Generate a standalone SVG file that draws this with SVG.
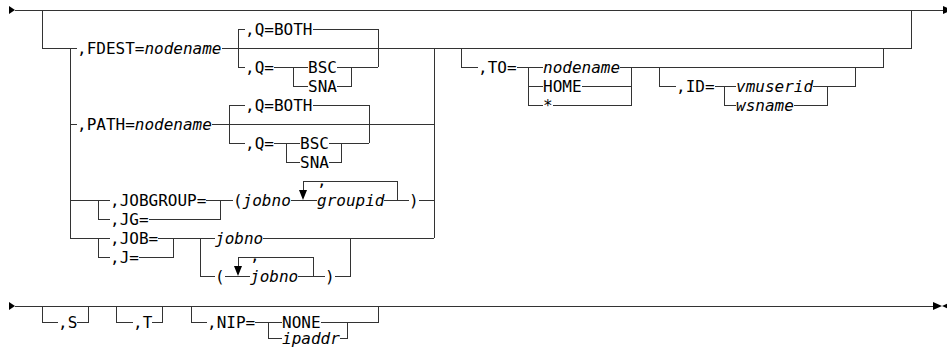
<svg xmlns="http://www.w3.org/2000/svg" width="947" height="356" viewBox="0 0 947 356">
<style>
.l{stroke:#333;stroke-width:1;fill:none}
.a{fill:#000;stroke:none}
text{font-family:"DejaVu Sans Mono","Liberation Mono",monospace;font-size:16px;fill:#000}
.i{font-style:italic}
</style>
<rect width="947" height="356" fill="#fff"/>
<g id="connectors" class="l" shape-rendering="crispEdges">
<path d="M15,10 H943"/>
<path d="M42,10 V48 H77 M222,48 H911 V10"/>
<path d="M70,48 V238 M434,48 V238"/>
<path d="M238,29 V67 M238,29 H245 M313,29 H378 V67 M238,67 H245 M274,67 H308 M293,67 V86 H308 M337,67 H378 M337,86 H351 V67"/>
<path d="M70,124 H77 M212,124 H434"/>
<path d="M229,105 V143 M229,105 H245 M313,105 H369 V143 M229,143 H245 M274,143 H300 M286,143 V162 H300 M329,143 H369 M329,162 H341 V143"/>
<path d="M70,200 H110 M98,200 V219 H110 M206,200 H233 M149,219 H220 V200 M291,200 H317 M303,190 V181 H397 V200 M384,200 H409 M419,200 H434"/>
<path d="M70,238 H110 M98,238 V257 H110 M158,238 H215 M139,257 H173 V238 M200,238 V276 H215 M225,276 H250 M238,266 V257 H313 V276 M298,276 H325 M335,276 H350 V238 M263,238 H434"/>
<path d="M461,48 V67 H478 M517,67 H543 M528,67 V105 M528,86 H543 M528,105 H543 M620,67 H883 V48 M582,86 H631 M553,105 H631 V67"/>
<path d="M659,67 V86 H676 M715,86 H736 M724,86 V105 H736 M813,86 H855 V67 M794,105 H827 V86"/>
<path d="M15,306 H933"/>
<path d="M42,306 V322 H58 M77,322 H88 V306 M116,306 V322 H133 M152,322 H162 V306 M191,306 V322 H207 M255,322 H282 M268,322 V338 H282 M321,322 H378 V306 M340,338 H347 V322"/>
</g>
<g id="arrows" class="a">
<polygon points="9,6 15,10 9,14"/>
<polygon points="943,6 952,10 943,14"/>
<polygon points="299,190 307,190 303,200"/>
<polygon points="234,266 242,266 238,276"/>
<polygon points="9,302 15,306 9,310"/>
<polygon points="933,302 942,306 933,310"/>
<polygon points="951,302 942,306 951,310"/>
</g>
<g id="fdest"><text x="77" y="54">,FDEST=</text><text class="i" x="144.4" y="54">nodename</text></g>
<g id="fdest-qboth"><text x="245" y="35">,Q=BOTH</text></g>
<g id="fdest-q"><text x="245" y="73">,Q=</text></g>
<g id="fdest-bsc"><text x="308" y="73">BSC</text></g>
<g id="fdest-sna"><text x="308" y="92">SNA</text></g>
<g id="path"><text x="77" y="130">,PATH=</text><text class="i" x="134.8" y="130">nodename</text></g>
<g id="path-qboth"><text x="245" y="111">,Q=BOTH</text></g>
<g id="path-q"><text x="245" y="149">,Q=</text></g>
<g id="path-bsc"><text x="300" y="149">BSC</text></g>
<g id="path-sna"><text x="300" y="168">SNA</text></g>
<g id="jobgroup"><text x="110" y="206">,JOBGROUP=</text></g>
<g id="jg"><text x="110" y="225">,JG=</text></g>
<g id="jobgroup-list"><text x="233" y="206">(</text><text class="i" x="242.6" y="206">jobno</text></g>
<g id="groupid-sep"><text x="317" y="186">,</text></g>
<g id="groupid"><text class="i" x="317" y="206">groupid</text></g>
<g id="jobgroup-close"><text x="409" y="206">)</text></g>
<g id="job"><text x="110" y="244">,JOB=</text></g>
<g id="j"><text x="110" y="263">,J=</text></g>
<g id="job-jobno"><text class="i" x="215" y="244">jobno</text></g>
<g id="job-open"><text x="215" y="282">(</text></g>
<g id="jobno-sep"><text x="250" y="261">,</text></g>
<g id="job-list-jobno"><text class="i" x="250" y="282">jobno</text></g>
<g id="job-close"><text x="325" y="282">)</text></g>
<g id="to"><text x="478" y="73">,TO=</text></g>
<g id="to-nodename"><text class="i" x="543" y="73">nodename</text></g>
<g id="to-home"><text x="543" y="92">HOME</text></g>
<g id="to-star"><text x="543" y="111">*</text></g>
<g id="id"><text x="676" y="92">,ID=</text></g>
<g id="id-vmuserid"><text class="i" x="736" y="92">vmuserid</text></g>
<g id="id-wsname"><text class="i" x="736" y="111">wsname</text></g>
<g id="s"><text x="58" y="328">,S</text></g>
<g id="t"><text x="133" y="328">,T</text></g>
<g id="nip"><text x="207" y="328">,NIP=</text></g>
<g id="nip-none"><text x="282" y="328">NONE</text></g>
<g id="nip-ipaddr"><text class="i" x="282" y="344">ipaddr</text></g>
</svg>
